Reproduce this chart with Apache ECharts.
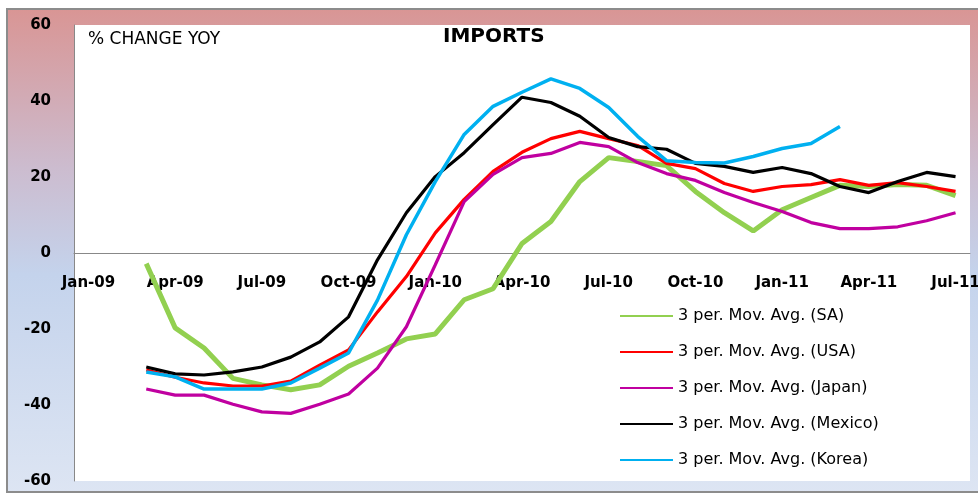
<!DOCTYPE html>
<html>
<head>
<meta charset="utf-8">
<script src="https://cdn.jsdelivr.net/npm/echarts@6/dist/echarts.min.js"></script>
<style>
html,body{margin:0;padding:0;background:#fff;}
#c{width:978px;height:495px;}
</style>
</head>
<body>
<div id="c"></div>
<script>
var months = ['Jan-09','Feb-09','Mar-09','Apr-09','May-09','Jun-09','Jul-09','Aug-09','Sep-09','Oct-09','Nov-09','Dec-09',
  'Jan-10','Feb-10','Mar-10','Apr-10','May-10','Jun-10','Jul-10','Aug-10','Sep-10','Oct-10','Nov-10','Dec-10',
  'Jan-11','Feb-11','Mar-11','Apr-11','May-11','Jun-11','Jul-11'];
var seriesNames = ['3 per. Mov. Avg. (SA)','3 per. Mov. Avg. (USA)','3 per. Mov. Avg. (Japan)','3 per. Mov. Avg. (Mexico)','3 per. Mov. Avg. (Korea)'];
var sa = [null,null,-2.8,-19.7,-25,-33,-34.7,-36,-34.7,-29.8,-26.3,-22.6,-21.3,-12.3,-9.4,2.5,8.3,18.8,25.1,24.1,23,16.2,10.6,5.8,11.4,14.6,17.8,17.5,18,17.8,15.1];
var usa = [null,null,-30.8,-32.7,-34.2,-35,-35,-33.7,-29.5,-25.5,-15.5,-6.2,5.3,14.1,21.5,26.5,30.1,32,30.1,28.3,23.6,22.2,18.3,16.2,17.5,18,19.3,17.8,18.5,17.5,16.2];
var japan = [null,null,-35.8,-37.4,-37.4,-39.8,-41.8,-42.2,-39.8,-37.1,-30.3,-19.4,-3.1,13.5,20.7,25.1,26.2,29.1,28,23.8,20.9,19.1,15.9,13.3,10.9,8,6.4,6.4,6.9,8.5,10.6];
var mexico = [null,null,-30,-31.8,-32.1,-31.3,-30,-27.4,-23.4,-16.8,-1.8,10.6,20.1,26.4,33.8,41,39.6,36,30.4,28,27.3,23.6,22.8,21.2,22.5,20.9,17.5,15.9,18.8,21.2,20.1];
var korea = [null,null,-31.3,-32.6,-35.8,-35.8,-35.8,-34.2,-30.3,-26.3,-12.4,4.8,18.8,31.2,38.6,42.3,45.8,43.3,38.3,30.7,24.3,23.8,23.7,25.4,27.5,28.8,33.3,null,null,null,null];
var yTicks = {min:-60, max:60, interval:20};

var colors = ['#92d050','#ff0000','#c000a0','#000000','#00b0f0'];
var widths = [5,3.2,3.2,3.2,3.5];
var dataArr = [sa, usa, japan, mexico, korea];

var chart = echarts.init(document.getElementById('c'));
var series = dataArr.map(function(d,i){
  return {
    name: seriesNames[i], type:'line', data:d, symbol:'none', smooth:false,
    connectNulls:false, z: (i===0?2:3),
    lineStyle:{color:colors[i], width:widths[i]},
    itemStyle:{color:colors[i]}
  };
});
chart.setOption({
  backgroundColor:'#ffffff',
  animation:false,
  graphic:[
    {type:'rect', z:-10, shape:{x:7,y:9,width:980,height:483},
     style:{stroke:'#8c8c8c', lineWidth:2,
       fill:{type:'linear',x:0,y:0,x2:0,y2:1,colorStops:[
         {offset:0,color:'#d99594'},{offset:0.33,color:'#ccbccf'},{offset:0.55,color:'#c4d3ec'},{offset:1,color:'#dde5f3'}]}}},
    {type:'text', left:88, top:31, style:{text:'% CHANGE YOY', fill:'#000', font:'17px "DejaVu Sans"'}},
    {type:'text', left:443, top:27, style:{text:'IMPORTS', fill:'#000', font:'bold 20px "DejaVu Sans"'}}
  ],
  grid:{left:74, top:25, right:8, bottom:14, show:true, backgroundColor:'#ffffff', borderWidth:0, outerBoundsMode:'none', containLabel:false},
  legend:{
    orient:'vertical', left:620, top:308, padding:0, itemWidth:53, itemHeight:14, itemGap:20,
    icon:'path://M0,6 L53,6 L53,8 L0,8 Z',
    textStyle:{fontFamily:'DejaVu Sans', fontSize:16, color:'#000'},
    data:seriesNames.map(function(n,i){return {name:n, itemStyle:{color:colors[i]}};})
  },
  xAxis:{
    type:'category', data:months, boundaryGap:true, position:'bottom', offset:-228, z:1,
    axisLine:{onZero:false, lineStyle:{color:'#888', width:1}},
    axisTick:{show:false},
    axisLabel:{interval:2, margin:23, color:'#000', fontFamily:'DejaVu Sans', fontWeight:'bold', fontSize:15}
  },
  yAxis:{
    type:'value', min:yTicks.min, max:yTicks.max, interval:yTicks.interval,
    splitLine:{show:false},
    axisLine:{show:true, lineStyle:{color:'#888', width:1}},
    axisTick:{show:false},
    axisLabel:{margin:23, color:'#000', fontFamily:'DejaVu Sans', fontWeight:'bold', fontSize:15}
  },
  series:series
});
</script>
</body>
</html>
